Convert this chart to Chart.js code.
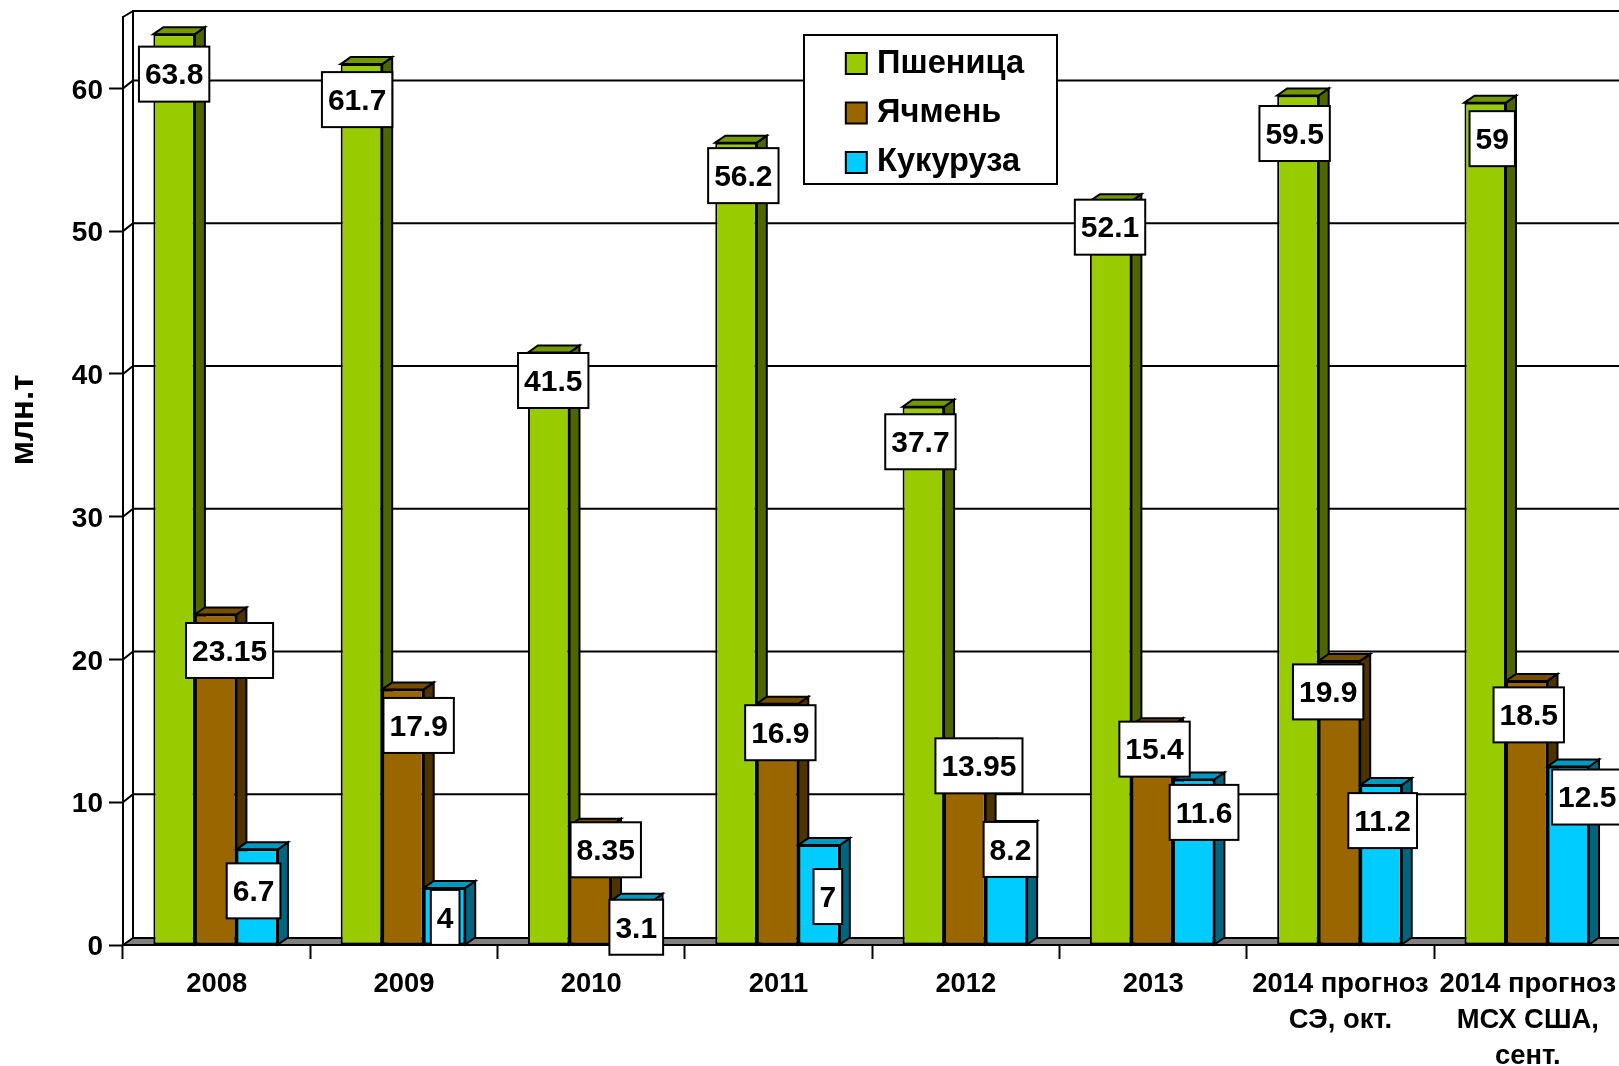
<!DOCTYPE html>
<html>
<head>
<meta charset="utf-8">
<script src="https://cdn.jsdelivr.net/npm/chart.js@4"></script>
<style>
  html, body { margin: 0; padding: 0; background: #fff; overflow: hidden; }
  #wrap { width: 1619px; height: 1066px; overflow: hidden; }
  canvas { display: block; }
</style>
</head>
<body>
<div id="wrap"><canvas id="chart" width="1640" height="1066"></canvas></div>
<script>
const categories = ['2008', '2009', '2010', '2011', '2012', '2013',
  ['2014 прогноз', 'СЭ, окт.'], ['2014 прогноз', 'МСХ США,', 'сент.']];
const wheat = [63.8, 61.7, 41.5, 56.2, 37.7, 52.1, 59.5, 59];
const barley = [23.15, 17.9, 8.35, 16.9, 13.95, 15.4, 19.9, 18.5];
const corn = [6.7, 4, 3.1, 7, 8.2, 11.6, 11.2, 12.5];

// hand-placed value labels in the original, offset from the bar's top centre
const wheatNudge = [[0, 40], [-4.3, 35.5], [4.5, 28], [7.3, 33], [-2.9, 35], [-0.6, 26], [-3.3, 38], [7, 36]];
const barleyNudge = [[13.9, 36], [15.7, 36], [15.5, 24], [2.8, 29], [14.1, 20], [2.4, 24], [-11.3, 31], [2, 34]];
const cornNudge = [[-3.6, 41.5], [0.7, 29.5], [4.5, 26.5], [8.8, 51.5], [4.1, 21.5], [10.4, 33], [1.7, 35.5], [19, 30.5]];

const FONT = '"Liberation Sans", Arial, sans-serif';
const LINE = 2;
const DEPTH_X = 10, DEPTH_Y = 7, WALL_Y = 8;
const BAR_SHIFT = 1;
const legendBox = { left: 804, top: 35, right: 1057, bottom: 184 };

function poly(ctx, pts, fill) {
  ctx.beginPath();
  pts.forEach(([x, y], i) => i ? ctx.lineTo(x, y) : ctx.moveTo(x, y));
  ctx.closePath();
  if (fill) { ctx.fillStyle = fill; ctx.fill(); }
  ctx.stroke();
}

const wallsPlugin = {
  id: 'walls',
  afterLayout(chart) {
    const l = chart.legend;
    l.left = 835; l.right = legendBox.right; l.top = 30.5; l.bottom = 400;
    // y tick labels ride slightly below their ticks in the original
    chart.scales.y.getLabelItems(chart.chartArea).forEach(item => { item.options.translation[1] += 2.5; });
  },
  afterDatasetsUpdate(chart) {
    // the original's bar groups sit a touch left of the category centre
    chart.data.datasets.forEach((ds, i) => {
      chart.getDatasetMeta(i).data.forEach(bar => { bar.x -= BAR_SHIFT; });
    });
  },
  beforeDraw(chart) {
    const { ctx, chartArea: a, scales: { y } } = chart;
    const bx = a.left + DEPTH_X;
    ctx.save();
    ctx.strokeStyle = '#000';
    ctx.lineWidth = LINE;
    // floor
    poly(ctx, [[a.left, a.bottom], [bx, a.bottom - DEPTH_Y], [a.right + DEPTH_X, a.bottom - DEPTH_Y], [a.right, a.bottom]], '#808080');
    // back wall + side wall
    ctx.beginPath();
    ctx.moveTo(bx, a.bottom - DEPTH_Y);
    ctx.lineTo(bx, a.top - 6);
    ctx.lineTo(chart.width, a.top - 6);
    ctx.moveTo(bx, a.top - 6);
    ctx.lineTo(a.left, a.top);
    ctx.stroke();
    // grid lines on the back wall
    ctx.beginPath();
    y.ticks.forEach(t => {
      if (t.value === 0) return;
      const py = y.getPixelForValue(t.value);
      ctx.moveTo(a.left, py);
      ctx.lineTo(bx, py - WALL_Y);
      ctx.lineTo(chart.width, py - WALL_Y);
    });
    ctx.stroke();
    // legend frame
    ctx.fillStyle = '#fff';
    ctx.fillRect(legendBox.left, legendBox.top, legendBox.right - legendBox.left, legendBox.bottom - legendBox.top);
    ctx.strokeRect(legendBox.left, legendBox.top, legendBox.right - legendBox.left, legendBox.bottom - legendBox.top);
    ctx.restore();
  },
  beforeDatasetsDraw(chart) {
    const { ctx } = chart;
    ctx.save();
    ctx.strokeStyle = '#000';
    ctx.lineWidth = LINE;
    chart.data.datasets.forEach((ds, i) => {
      chart.getDatasetMeta(i).data.forEach(bar => {
        const l = bar.x - bar.width / 2, r = bar.x + bar.width / 2;
        poly(ctx, [[r, bar.y], [r + DEPTH_X, bar.y - DEPTH_Y], [r + DEPTH_X, bar.base - DEPTH_Y], [r, bar.base]], ds.sideColor);
        poly(ctx, [[l, bar.y], [l + DEPTH_X, bar.y - DEPTH_Y], [r + DEPTH_X, bar.y - DEPTH_Y], [r, bar.y]], ds.topColor);
      });
    });
    ctx.restore();
  },
  afterDatasetsDraw(chart) {
    const { ctx } = chart;
    ctx.save();
    ctx.font = 'bold 30px ' + FONT;
    ctx.textAlign = 'center';
    ctx.textBaseline = 'middle';
    ctx.lineWidth = LINE;
    chart.data.datasets.forEach((ds, i) => {
      chart.getDatasetMeta(i).data.forEach((bar, j) => {
        const text = String(ds.data[j]);
        const [dx, dy] = ds.nudge[j];
        const w = ctx.measureText(text).width + 12, h = 55;
        const cx = bar.x + dx, cy = bar.y + dy;
        ctx.fillStyle = '#fff';
        ctx.strokeStyle = '#000';
        ctx.fillRect(cx - w / 2, cy - h / 2, w, h);
        ctx.strokeRect(cx - w / 2, cy - h / 2, w, h);
        ctx.fillStyle = '#000';
        ctx.fillText(text, cx, cy + 2);
      });
    });
    // y axis title sits above the axis centre in the original
    ctx.translate(33, 420);
    ctx.rotate(-Math.PI / 2);
    ctx.textBaseline = 'alphabetic';
    ctx.font = 'bold 33px ' + FONT;
    ctx.fillText('млн.т', 0, 0);
    ctx.restore();
  }
};

const barBase = { borderColor: '#000', borderWidth: LINE, borderSkipped: false, categoryPercentage: 0.665, barPercentage: 1 };

new Chart(document.getElementById('chart'), {
  type: 'bar',
  data: {
    labels: categories,
    datasets: [
      { ...barBase, label: 'Пшеница', data: wheat, backgroundColor: '#99CC00', sideColor: '#4D6600', topColor: '#739900', nudge: wheatNudge },
      { ...barBase, label: 'Ячмень', data: barley, backgroundColor: '#996600', sideColor: '#4D3300', topColor: '#734D00', nudge: barleyNudge },
      { ...barBase, label: 'Кукуруза', data: corn, backgroundColor: '#00CCFF', sideColor: '#006680', topColor: '#0099BF', nudge: cornNudge }
    ]
  },
  options: {
    responsive: false,
    animation: false,
    layout: { padding: { top: 17, right: 18.6, left: 0, bottom: 0 } },
    scales: {
      x: {
        afterFit: s => { s.height = 121; },
        grid: { drawOnChartArea: false, tickLength: 14, tickColor: '#000', tickWidth: LINE },
        border: { color: '#000', width: LINE },
        ticks: { color: '#000', padding: 8, maxRotation: 0, autoSkip: false, font: { family: FONT, size: 27.4, weight: 'bold', lineHeight: 1.3 } }
      },
      y: {
        min: 0, max: 65,
        afterFit: s => { s.width = 123; s.paddingTop = 0; s.paddingBottom = 0; },
        grid: { drawOnChartArea: false, tickLength: 14, tickColor: '#000', tickWidth: LINE },
        border: { color: '#000', width: LINE },
        ticks: { stepSize: 10, includeBounds: false, color: '#000', padding: 6, font: { family: FONT, size: 28, weight: 'bold' } }
      }
    },
    plugins: {
      tooltip: { enabled: false },
      legend: {
        position: 'chartArea',
        align: 'start',
        labels: { usePointStyle: true, pointStyle: 'rect', boxWidth: 9, boxHeight: 21, padding: 16.8, color: '#000', font: { family: FONT, size: 32.6, weight: 'bold' } }
      }
    }
  },
  plugins: [wallsPlugin]
});
</script>
</body>
</html>
